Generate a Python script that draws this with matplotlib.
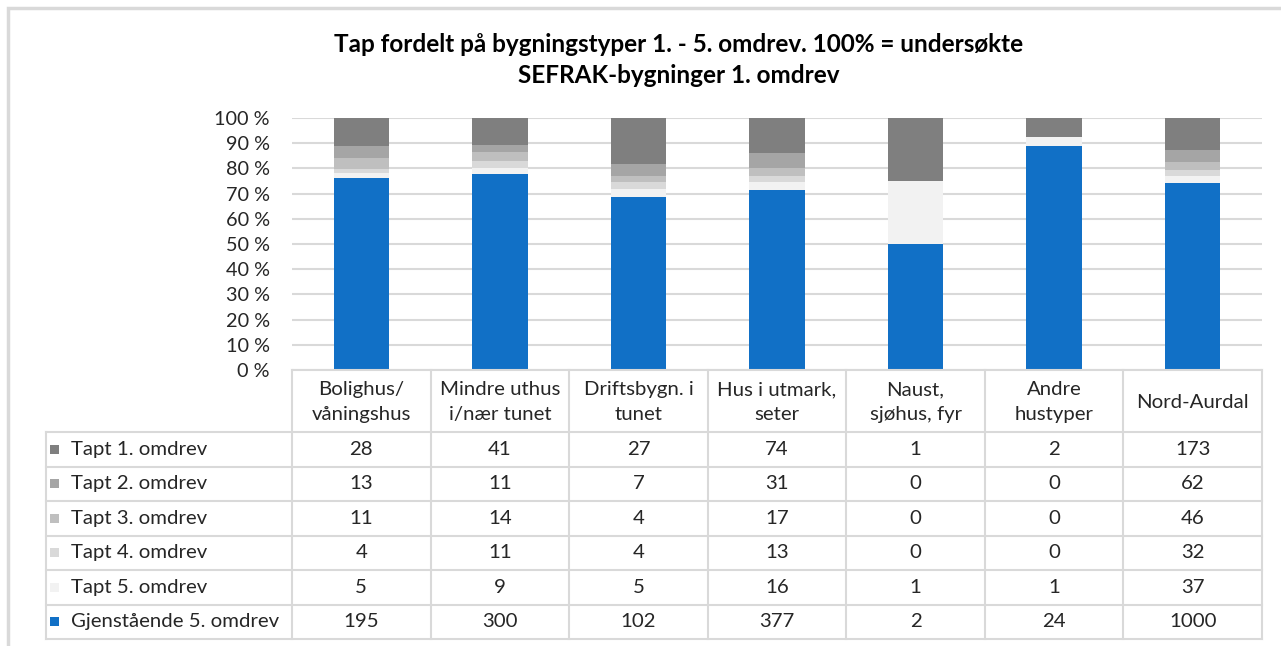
import numpy as np
import matplotlib.pyplot as plt
from matplotlib.lines import Line2D
from matplotlib.patches import Rectangle

plt.rcParams['font.family'] = ['Lato', 'DejaVu Sans']

categories = ["Bolighus/\nvåningshus", "Mindre uthus\ni/nær tunet", "Driftsbygn. i\ntunet",
              "Hus i utmark,\nseter", "Naust,\nsjøhus, fyr", "Andre\nhustyper", "Nord-Aurdal"]
series_names = ["Tapt 1. omdrev", "Tapt 2. omdrev", "Tapt 3. omdrev",
                "Tapt 4. omdrev", "Tapt 5. omdrev", "Gjenstående 5. omdrev"]
tapt1 = [28, 41, 27, 74, 1, 2, 173]
tapt2 = [13, 11, 7, 31, 0, 0, 62]
tapt3 = [11, 14, 4, 17, 0, 0, 46]
tapt4 = [4, 11, 4, 13, 0, 0, 32]
tapt5 = [5, 9, 5, 16, 1, 1, 37]
gjenst = [195, 300, 102, 377, 2, 24, 1000]
colors = ["#7f7f7f", "#a5a5a5", "#bfbfbf", "#d9d9d9", "#f2f2f2", "#1170c6"]
title = "Tap fordelt på bygningstyper 1. - 5. omdrev. 100% = undersøkte\nSEFRAK-bygninger 1. omdrev"

W, H = 1281, 646
fig = plt.figure(figsize=(W / 100, H / 100), dpi=100)


def fx(px):
    return px / W


def fy(py):
    return 1 - py / H


# outer chart frame (runs off right/bottom edge)
fig.add_artist(Rectangle((fx(8), fy(H + 20)), fx(W + 20), (H + 12) / H,
                         transform=fig.transFigure, fill=False, ec="#d9d9d9", lw=2.5))

ax_l, ax_r, ax_t, ax_b = 292, 1262, 118, 370
ax = fig.add_axes([fx(ax_l), fy(ax_b), fx(ax_r - ax_l), (ax_b - ax_t) / H])

data = np.array([tapt1, tapt2, tapt3, tapt4, tapt5, gjenst], dtype=float)
totals = data.sum(axis=0)
pct = data / totals * 100
x = np.arange(len(categories))
bottom = np.zeros(len(categories))
# stack from bottom: remaining, then tapt 5 ... tapt 1
for i in range(len(series_names) - 1, -1, -1):
    ax.bar(x, pct[i], 0.4, bottom=bottom, color=colors[i], zorder=3)
    bottom += pct[i]

ax.set_xlim(-0.5, len(categories) - 0.5)
ax.set_ylim(0, 100)
ax.set_yticks(np.arange(0, 101, 10))
ax.set_yticklabels([f"{v} %" for v in range(0, 101, 10)], fontsize=14.3, color="#262626")
ax.set_xticks([])
ax.yaxis.grid(True, color="#d9d9d9", lw=1.5, zorder=0)
ax.tick_params(axis="y", length=0, pad=16)
for s in ax.spines.values():
    s.set_visible(False)

fig.text(fx(679), fy(60), title, ha="center", va="center", fontsize=17.5, fontweight="bold",
         color="#000000", linespacing=1.38)

# data table
line_c = "#d9d9d9"
col_w = (ax_r - ax_l) / len(categories)
head_t, head_b = 370, 432
row_h = 34.5
tbl_l = 46
n_rows = len(series_names)
tbl_b = head_b + n_rows * row_h
fs = 14.7


def hline(y, x0, x1):
    fig.add_artist(Line2D([fx(x0), fx(x1)], [fy(y), fy(y)], color=line_c, lw=1.5))


def vline(xp, y0, y1):
    fig.add_artist(Line2D([fx(xp), fx(xp)], [fy(y0), fy(y1)], color=line_c, lw=1.5))


hline(head_t, ax_l, ax_r)
for r in range(n_rows + 1):
    hline(head_b + r * row_h, tbl_l, ax_r)
vline(tbl_l, head_b, tbl_b)
for c in range(len(categories) + 1):
    vline(ax_l + c * col_w, head_t, tbl_b)

for c, cat in enumerate(categories):
    fig.text(fx(ax_l + (c + 0.5) * col_w), fy((head_t + head_b) / 2 + 1), cat,
             ha="center", va="center", fontsize=fs, color="#262626", linespacing=1.55)

for r, name in enumerate(series_names):
    yc = head_b + (r + 0.5) * row_h
    fig.add_artist(Rectangle((fx(50), fy(yc + 4.5)), fx(9), 9 / H,
                             transform=fig.transFigure, color=colors[r], lw=0))
    fig.text(fx(71), fy(yc), name, ha="left", va="center", fontsize=fs, color="#262626")
    for c in range(len(categories)):
        fig.text(fx(ax_l + (c + 0.5) * col_w), fy(yc), f"{int(data[r, c])}",
                 ha="center", va="center", fontsize=fs, color="#262626")

fig.savefig("out.png", dpi=100)
